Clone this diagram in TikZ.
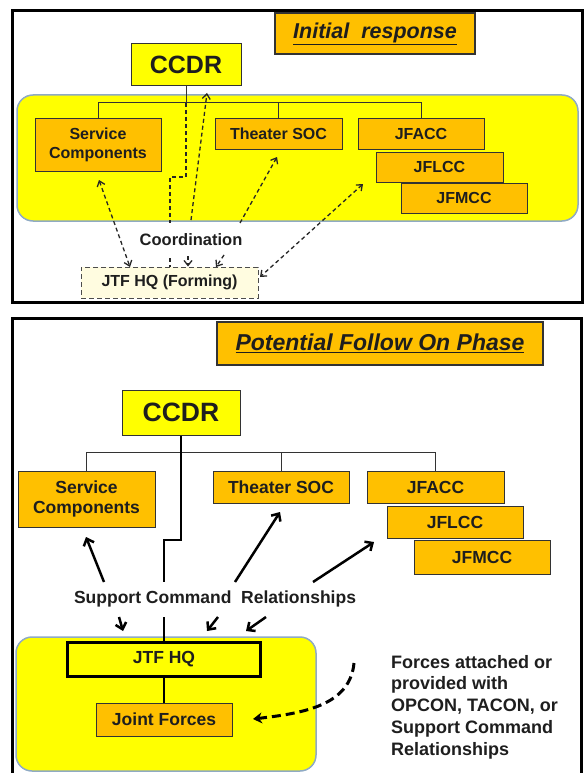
\documentclass[tikz,border=0pt]{standalone}
\usepackage{fontspec}
\setmainfont{Liberation Sans}
\usetikzlibrary{arrows.meta,positioning}
\definecolor{gold}{HTML}{FFC000}
\definecolor{hilite}{HTML}{FFFF00}
\definecolor{regionedge}{HTML}{8FAAC4}
\definecolor{cream}{HTML}{FFFCE0}
\definecolor{ink}{HTML}{1E1E1E}

\begin{document}
\begin{tikzpicture}[x=1pt, y=-1pt,
	unit/.style={draw=black!80, fill=gold, line width=1pt, inner sep=0pt, align=center, text=ink,
		font=\bfseries\fontsize{16}{19}\selectfont},
	bigunit/.style={unit, font=\bfseries\fontsize{17.5}{20}\selectfont},
	ccdr/.style={unit, fill=hilite, font=\bfseries\fontsize{25}{28}\selectfont},
	phase/.style={unit, line width=1.4pt, font=\bfseries\itshape\fontsize{21.5}{24}\selectfont},
	region/.style={draw=regionedge, fill=hilite, line width=1.5pt, rounded corners=16pt},
	frame/.style={draw=black, line width=3pt},
	org/.style={draw=black!80, line width=1pt},
	cmd/.style={draw=black, line width=2.5pt},
	coord/.style={draw=black!85, line width=1.3pt, dash pattern=on 4pt off 3pt,
		>={Straight Barb[length=5pt,width=8pt]}},
	rel/.style={draw=black, line width=2.5pt, >={Straight Barb[length=6pt,width=11pt]}},
	lbl/.style={text=ink, inner sep=1pt, font=\bfseries\fontsize{16.5}{19}\selectfont},
]
	\useasboundingbox (0,0) rectangle (584,773);
	\fill[white] (0,0) rectangle (584,773);

	% ---- initial response ----
	\draw[frame] (12,11) rectangle (582,302);
	\draw[region] (17,95) rectangle (578,221);
	\node[phase, minimum width=200pt, minimum height=41pt] (title1) at (375,33.5) {\underline{Initial\ \ response}};
	\node[ccdr, minimum width=110pt, minimum height=42pt] (ccdr1) at (186,65) {CCDR};
	\node[unit, minimum width=126pt, minimum height=52pt] (sc1) at (98,145) {Service\\Components};
	\node[unit, minimum width=127pt, minimum height=30pt] (soc1) at (278.5,134) {Theater SOC};
	\node[unit, minimum width=126pt, minimum height=30pt] (jfacc1) at (421,134) {JFACC};
	\node[unit, minimum width=127pt, minimum height=30pt] (jflcc1) at (439.5,167) {JFLCC};
	\node[unit, minimum width=126pt, minimum height=30pt] (jfmcc1) at (464,198) {JFMCC};
	\node[lbl] (coord1) at (191,240) {Coordination};
	\node[unit, fill=cream, draw=black!70, dash pattern=on 5pt off 3pt, minimum width=177pt, minimum height=31pt] (jtf1) at (169.5,282.5) {JTF HQ (Forming)};

	\draw[org] (ccdr1.south) -- (186,103);
	\draw[org] (sc1.north) -- ++(0,-16) -| (jfacc1.north);
	\draw[org] (soc1.north) -- ++(0,-16);

	\coordinate (c1a) at (99,180);
	\coordinate (c1b) at (130,267);
	\coordinate (c2a) at (170,223);
	\coordinate (c2b) at (170,258);
	\coordinate (c3a) at (191,220);
	\coordinate (c3b) at (207,93);
	\coordinate (c3c) at (188,256);
	\coordinate (c4a) at (240,223);
	\coordinate (c4b) at (277,157);
	\coordinate (c4c) at (224,255);
	\coordinate (c5a) at (363,184);
	\coordinate (c5b) at (260,277);
	\draw[coord, <->] (c1a) -- (c1b);
	\draw[coord] (186,103) -- (186,177) -- (170,177) -- (c2a);
	\draw[coord] (c2b) -- (jtf1.north -| c2b);
	\draw[coord, ->] (c3a) -- (c3b);
	\draw[coord, ->] (c3c) -- (jtf1.north -| c3c);
	\draw[coord, ->] (c4a) -- (c4b);
	\draw[coord, ->] (c4c) -- (216,267);
	\draw[coord, <->] (c5a) -- (c5b);

	% ---- potential follow on phase ----
	\draw[frame] (12,790) -- (12,318) -- (581,318) -- (581,790);
	\draw[region] (16,637) rectangle (316,771);
	\node[phase, minimum width=326pt, minimum height=43pt, font=\bfseries\itshape\fontsize{23}{26}\selectfont] (title2) at (380,343.5) {\underline{Potential Follow On Phase}};
	\node[ccdr, minimum width=118pt, minimum height=45pt, font=\bfseries\fontsize{26.5}{30}\selectfont] (ccdr2) at (181,412.5) {CCDR};
	\node[bigunit, minimum width=137pt, minimum height=56pt] (sc2) at (86.5,499) {Service\\Components};
	\node[bigunit, minimum width=136pt, minimum height=32pt] (soc2) at (281,487) {Theater SOC};
	\node[bigunit, minimum width=137pt, minimum height=32pt] (jfacc2) at (435.5,487) {JFACC};
	\node[bigunit, minimum width=136pt, minimum height=32pt] (jflcc2) at (455,522) {JFLCC};
	\node[bigunit, minimum width=136pt, minimum height=34pt] (jfmcc2) at (482,557) {JFMCC};
	\node[lbl, font=\bfseries\fontsize{17.5}{20}\selectfont] (scr) at (215,599) {Support Command\ \ Relationships};
	\node[bigunit, fill=hilite, draw=black, line width=3pt, minimum width=193pt, minimum height=34pt] (jtf2) at (164,659) {JTF HQ};
	\node[bigunit, minimum width=136pt, minimum height=33pt] (jf2) at (164,719.5) {Joint Forces};
	\node[lbl, anchor=north west, align=left, inner sep=0pt, font=\bfseries\fontsize{18}{21.7}\selectfont] (forces) at (391,655)
		{Forces attached or\\provided with\\OPCON, TACON, or\\Support Command\\Relationships};

	\draw[org] (sc2.north) -- ++(0,-18) -| (jfacc2.north);
	\draw[org] (soc2.north) -- ++(0,-18);
	\draw[cmd] (ccdr2.south) |- (164,540) -- (164,582);
	\draw[cmd] (164,617) -- (jtf2.north);
	\draw[cmd] (jtf2.south) -- (jf2.north);

	\coordinate (r1a) at (104,582);
	\coordinate (r1b) at (86,537);
	\coordinate (r2a) at (235,582);
	\coordinate (r2b) at (280,512);
	\coordinate (r3a) at (313,582);
	\coordinate (r3b) at (374,542);
	\draw[rel, ->] (r1a) -- (r1b);
	\draw[rel, ->] (r2a) -- (r2b);
	\draw[rel, ->] (r3a) -- (r3b);
	\foreach \xa/\xb in {119/123, 218/207, 266/246}
		\draw[rel, ->] (\xa,617) -- (\xb,631);

	\coordinate (fa) at (354,663);
	\coordinate (fb) at (253,719);
	\draw[draw=black, line width=3pt, dash pattern=on 9pt off 5pt, -{Stealth[length=9pt,width=11pt]}]
		(fa) .. controls (350,705) and (305,713) .. (fb);
\end{tikzpicture}
\end{document}
